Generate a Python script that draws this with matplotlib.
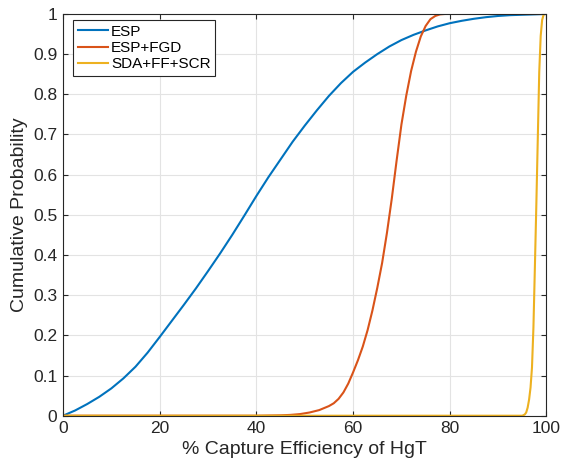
import matplotlib
matplotlib.use("Agg")
import matplotlib.pyplot as plt

plt.rcParams['font.family'] = ['Liberation Sans', 'DejaVu Sans']

# ESP
esp_x = [0, 2.5, 5, 7.5, 10, 12.5, 15, 17.5, 20, 22.5, 25, 27.5, 30, 32.5, 35, 37.5, 40,
         42.5, 45, 47.5, 50, 52.5, 55, 57.5, 60, 62.5, 65, 67.5, 70, 72.5, 75, 77.5, 80,
         82.5, 85, 87.5, 90, 92.5, 95, 97.5, 100]
esp_y = [0, 0.013, 0.029, 0.047, 0.068, 0.093, 0.122, 0.157, 0.196, 0.236, 0.276, 0.317,
         0.36, 0.404, 0.45, 0.498, 0.547, 0.594, 0.638, 0.682, 0.722, 0.76, 0.796, 0.828,
         0.856, 0.879, 0.9, 0.919, 0.935, 0.948, 0.959, 0.969, 0.977, 0.983, 0.988, 0.992,
         0.995, 0.997, 0.998, 0.999, 1.0]

# ESP+FGD
fgd_x = [0, 40, 45, 47, 49, 51, 53, 55, 56, 57, 58, 59, 60, 61, 62, 63, 64, 65, 66, 67,
         68, 69, 70, 71, 72, 73, 74, 75, 76, 77, 78, 79, 100]
fgd_y = [0, 0, 0.001, 0.002, 0.004, 0.008, 0.014, 0.024, 0.031, 0.042, 0.058, 0.08, 0.108,
         0.138, 0.172, 0.213, 0.262, 0.318, 0.38, 0.455, 0.54, 0.635, 0.725, 0.797, 0.858,
         0.906, 0.944, 0.97, 0.987, 0.995, 0.999, 1.0, 1.0]

# SDA+FF+SCR
sda_x = [0, 95.0, 95.5, 95.8, 96.1, 96.4, 96.7, 97.0, 97.3, 97.6, 97.9, 98.2, 98.5, 98.8,
         99.1, 99.4, 99.7, 100]
sda_y = [0, 0, 0.003, 0.008, 0.02, 0.04, 0.07, 0.12, 0.22, 0.37, 0.525, 0.69, 0.855, 0.945,
         0.985, 0.998, 1.0, 1.0]

labels = ['ESP', 'ESP+FGD', 'SDA+FF+SCR']
colors = ['#0072BD', '#D95319', '#EDB120']

xticks = [0, 20, 40, 60, 80, 100]
yticks = [0, 0.1, 0.2, 0.3, 0.4, 0.5, 0.6, 0.7, 0.8, 0.9, 1]
yticklabels = ['0', '0.1', '0.2', '0.3', '0.4', '0.5', '0.6', '0.7', '0.8', '0.9', '1']

fig = plt.figure(figsize=(5.62, 4.65), dpi=100)
ax = fig.add_axes([0.1121, 0.106, 0.8603, 0.864])

for xs, ys, lab, c in zip([esp_x, fgd_x, sda_x], [esp_y, fgd_y, sda_y], labels, colors):
    ax.plot(xs, ys, color=c, lw=1.5, label=lab, solid_joinstyle='round')

ax.set_xlim(0, 100)
ax.set_ylim(0, 1)
ax.set_xticks(xticks)
ax.set_yticks(yticks)
ax.set_yticklabels(yticklabels)
ax.grid(True, color='#e3e3e3', lw=0.8)
ax.set_axisbelow(True)
ax.tick_params(direction='in', top=True, right=True, labelsize=12.5,
               colors='#262626', length=3.5, width=0.8, pad=4)
for s in ax.spines.values():
    s.set_color('#262626')
    s.set_linewidth(0.8)

ax.set_xlabel('% Capture Efficiency of HgT', fontsize=14, color='#262626', labelpad=3.5)
ax.set_ylabel('Cumulative Probability', fontsize=14, color='#262626', labelpad=4)

leg = ax.legend(loc='upper left', bbox_to_anchor=(0.0207, 0.985), fontsize=11,
                frameon=True, fancybox=False, edgecolor='#262626', framealpha=1,
                handlelength=2.0, handletextpad=0.2, borderpad=0.3, labelspacing=0.15,
                borderaxespad=0)
leg.get_frame().set_linewidth(0.8)

fig.savefig('out.png', dpi=100)
